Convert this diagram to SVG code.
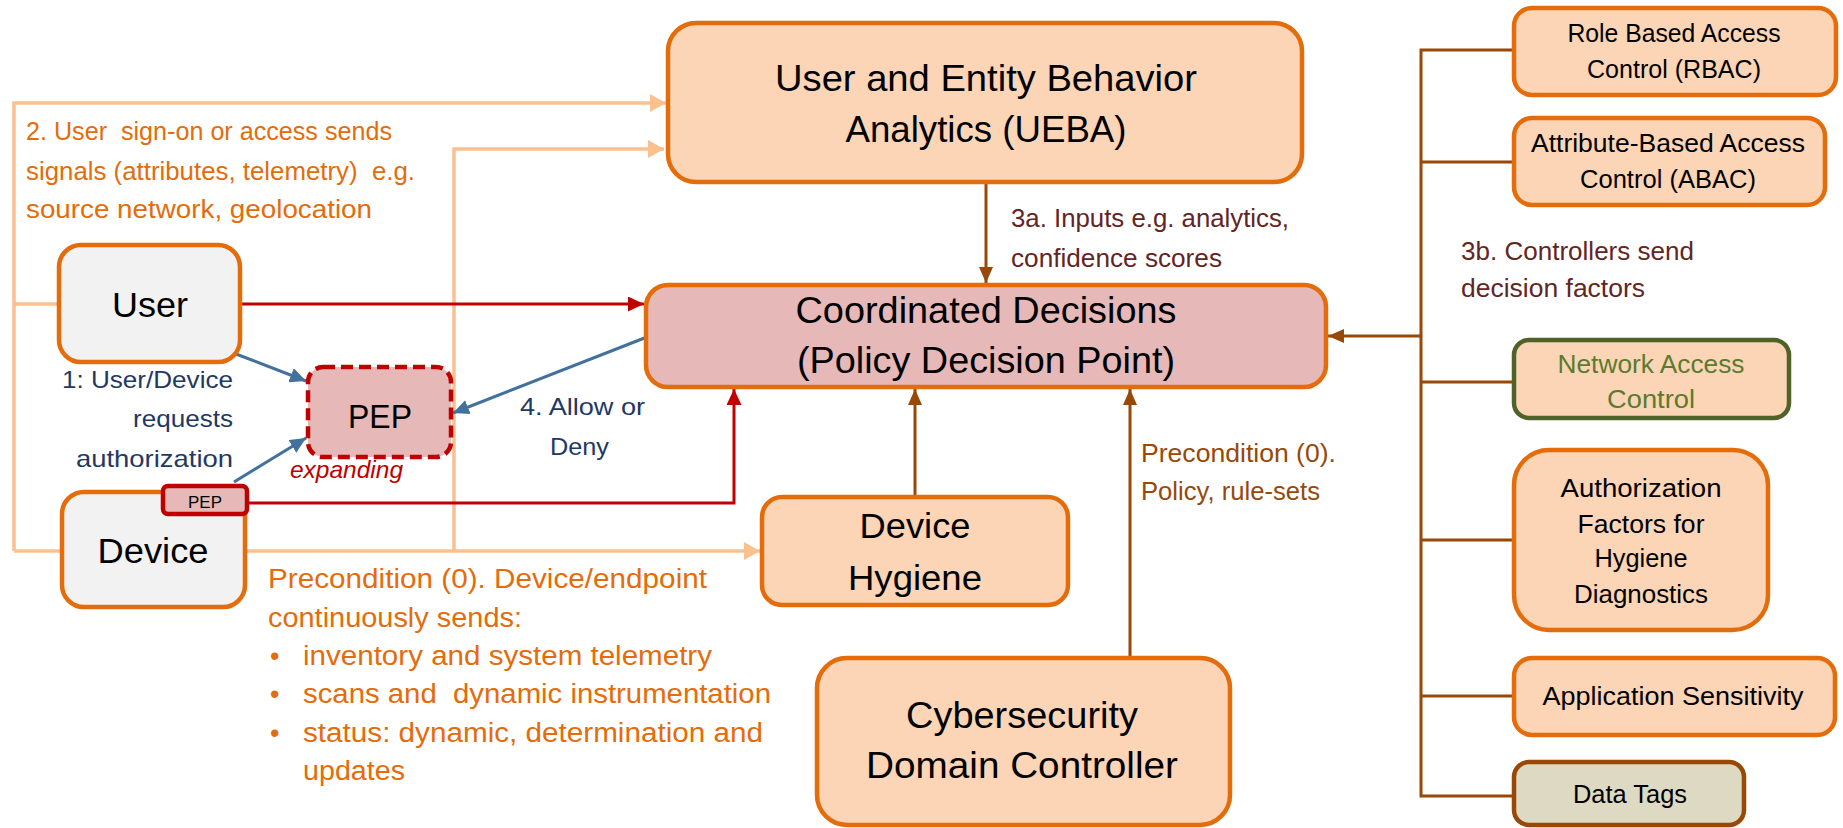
<svg xmlns="http://www.w3.org/2000/svg" width="1843" height="828" viewBox="0 0 1843 828">
<style>
text { font-family: "Liberation Sans", Arial, sans-serif; white-space: pre; }
.box { fill:#FBD5B5; stroke:#E46C0A; stroke-width:4.5; }
.pdp { fill:#E6B9B8; stroke:#E46C0A; stroke-width:4.5; }
.grey { fill:#F2F2F2; stroke:#E46C0A; stroke-width:4.5; }
.pep { fill:#E6B9B8; stroke:#C00000; stroke-width:4.5; }
.t { fill:#000; text-anchor:middle; }
.lo { stroke:#FAC090; stroke-width:3.5; fill:none; }
.red { stroke:#C00000; stroke-width:3; fill:none; }
.blue { stroke:#41719C; stroke-width:3; fill:none; }
.brown { stroke:#984807; stroke-width:3; fill:none; }
.or { fill:#E46C0A; }
.dr { fill:#632523; }
.nv { fill:#1F3864; }
.br { fill:#984807; }
</style>
<defs>
<marker id="aLO" markerUnits="userSpaceOnUse" markerWidth="16" markerHeight="18" refX="16" refY="9" orient="auto"><path d="M0,0 L16,9 L0,18 z" fill="#FAC090"/></marker>
<marker id="aR" markerUnits="userSpaceOnUse" markerWidth="16" markerHeight="15" refX="16" refY="7.5" orient="auto"><path d="M0,0 L16,7.5 L0,15 z" fill="#C00000"/></marker>
<marker id="aB" markerUnits="userSpaceOnUse" markerWidth="16" markerHeight="15" refX="16" refY="7.5" orient="auto"><path d="M0,0 L16,7.5 L0,15 z" fill="#41719C"/></marker>
<marker id="aBr" markerUnits="userSpaceOnUse" markerWidth="16" markerHeight="14" refX="16" refY="7" orient="auto"><path d="M0,0 L16,7 L0,14 z" fill="#984807"/></marker>
</defs>

<g id="connectors">
  <path class="lo" d="M14,551 L14,103 L666,103" marker-end="url(#aLO)"/>
  <path class="lo" d="M14,304 L59,304"/>
  <path class="lo" d="M14,551 L62,551"/>
  <path class="lo" d="M245,551 L760,551" marker-end="url(#aLO)"/>
  <path class="lo" d="M454,551 L454,149 L664,149" marker-end="url(#aLO)"/>
  <path class="red" d="M240,304 L644,304" marker-end="url(#aR)"/>
  <path class="red" d="M247,503 L734,503 L734,389" marker-end="url(#aR)"/>
  <path class="blue" d="M236,354 L306,381" marker-end="url(#aB)"/>
  <path class="blue" d="M234,482 L306,438" marker-end="url(#aB)"/>
  <path class="blue" d="M647,337 L453,413" marker-end="url(#aB)"/>
  <path class="brown" d="M986,184 L986,283" marker-end="url(#aBr)"/>
  <path class="brown" d="M915,497 L915,389" marker-end="url(#aBr)"/>
  <path class="brown" d="M1130,658 L1130,389" marker-end="url(#aBr)"/>
  <path class="brown" d="M1514,50 L1421,50 L1421,796 L1514,796 M1421,162 L1514,162 M1421,382 L1514,382 M1421,540 L1514,540 M1421,696 L1514,696"/>
  <path class="brown" d="M1421,336 L1328,336" marker-end="url(#aBr)"/>
</g>

<g id="ueba">
  <rect class="box" x="668" y="23" width="634" height="159" rx="28"/>
  <text class="t" x="986" y="91" font-size="37" textLength="422" lengthAdjust="spacingAndGlyphs">User and Entity Behavior</text>
  <text class="t" x="986" y="142" font-size="37" textLength="281" lengthAdjust="spacingAndGlyphs">Analytics (UEBA)</text>
</g>
<g id="pdp">
  <rect class="pdp" x="646" y="285" width="680" height="102" rx="22"/>
  <text class="t" x="986" y="323" font-size="37" textLength="381" lengthAdjust="spacingAndGlyphs">Coordinated Decisions</text>
  <text class="t" x="986" y="373" font-size="37" textLength="378" lengthAdjust="spacingAndGlyphs">(Policy Decision Point)</text>
</g>
<g id="user">
  <rect class="grey" x="59" y="245" width="181" height="117" rx="22"/>
  <text class="t" x="150" y="317" font-size="35" textLength="76" lengthAdjust="spacingAndGlyphs">User</text>
</g>
<g id="device">
  <rect class="grey" x="62" y="492" width="183" height="115" rx="22"/>
  <text class="t" x="153" y="563" font-size="35" textLength="111" lengthAdjust="spacingAndGlyphs">Device</text>
</g>
<g id="device-pep">
  <rect class="pep" x="163" y="486" width="84" height="28" rx="5"/>
  <text class="t" x="205" y="508" font-size="17" textLength="34" lengthAdjust="spacingAndGlyphs">PEP</text>
</g>
<g id="pep">
  <rect class="pep" x="308" y="367" width="143" height="90" rx="15" stroke-dasharray="12 6"/>
  <text class="t" x="380" y="428" font-size="33" textLength="64" lengthAdjust="spacingAndGlyphs">PEP</text>
  <text x="290" y="478" font-size="24" font-style="italic" fill="#C00000" textLength="113" lengthAdjust="spacingAndGlyphs">expanding</text>
</g>
<g id="device-hygiene">
  <rect class="box" x="762" y="497" width="306" height="108" rx="20"/>
  <text class="t" x="915" y="538" font-size="35" textLength="111" lengthAdjust="spacingAndGlyphs">Device</text>
  <text class="t" x="915" y="590" font-size="35" textLength="134" lengthAdjust="spacingAndGlyphs">Hygiene</text>
</g>
<g id="cyber">
  <rect class="box" x="817" y="658" width="413" height="167" rx="30"/>
  <text class="t" x="1022" y="728" font-size="37" textLength="232" lengthAdjust="spacingAndGlyphs">Cybersecurity</text>
  <text class="t" x="1022" y="778" font-size="37" textLength="312" lengthAdjust="spacingAndGlyphs">Domain Controller</text>
</g>
<g id="rbac">
  <rect class="box" x="1514" y="8" width="322" height="87" rx="18"/>
  <text class="t" x="1674" y="42" font-size="25" textLength="213" lengthAdjust="spacingAndGlyphs">Role Based Access</text>
  <text class="t" x="1674" y="78" font-size="25" textLength="174" lengthAdjust="spacingAndGlyphs">Control (RBAC)</text>
</g>
<g id="abac">
  <rect class="box" x="1514" y="118" width="311" height="87" rx="18"/>
  <text class="t" x="1668" y="152" font-size="25" textLength="274" lengthAdjust="spacingAndGlyphs">Attribute-Based Access</text>
  <text class="t" x="1668" y="188" font-size="25" textLength="176" lengthAdjust="spacingAndGlyphs">Control (ABAC)</text>
</g>
<g id="nac">
  <rect x="1514" y="340" width="275" height="78" rx="15" fill="#FBD5B5" stroke="#4F6228" stroke-width="4.5"/>
  <text x="1651" y="373" font-size="25" text-anchor="middle" fill="#5C7A30" textLength="187" lengthAdjust="spacingAndGlyphs">Network Access</text>
  <text x="1651" y="408" font-size="25" text-anchor="middle" fill="#5C7A30" textLength="88" lengthAdjust="spacingAndGlyphs">Control</text>
</g>
<g id="auth-factors">
  <rect class="box" x="1514" y="450" width="254" height="180" rx="35"/>
  <text class="t" x="1641" y="497" font-size="25" textLength="161" lengthAdjust="spacingAndGlyphs">Authorization</text>
  <text class="t" x="1641" y="533" font-size="25" textLength="127" lengthAdjust="spacingAndGlyphs">Factors for</text>
  <text class="t" x="1641" y="567" font-size="25" textLength="93" lengthAdjust="spacingAndGlyphs">Hygiene</text>
  <text class="t" x="1641" y="603" font-size="25" textLength="134" lengthAdjust="spacingAndGlyphs">Diagnostics</text>
</g>
<g id="app-sensitivity">
  <rect class="box" x="1514" y="658" width="321" height="77" rx="18"/>
  <text class="t" x="1673" y="705" font-size="25" textLength="261" lengthAdjust="spacingAndGlyphs">Application Sensitivity</text>
</g>
<g id="data-tags">
  <rect x="1514" y="762" width="230" height="63" rx="15" fill="#DDD9C3" stroke="#984807" stroke-width="4.5"/>
  <text class="t" x="1630" y="803" font-size="25" textLength="114" lengthAdjust="spacingAndGlyphs">Data Tags</text>
</g>

<g id="labels">
  <text class="or" x="26" y="140" font-size="26" textLength="366" lengthAdjust="spacingAndGlyphs" xml:space="preserve">2. User  sign-on or access sends</text>
  <text class="or" x="26" y="180" font-size="26" textLength="389" lengthAdjust="spacingAndGlyphs" xml:space="preserve">signals (attributes, telemetry)  e.g.</text>
  <text class="or" x="26" y="218" font-size="26" textLength="346" lengthAdjust="spacingAndGlyphs">source network, geolocation</text>

  <text class="dr" x="1011" y="227" font-size="25" textLength="278" lengthAdjust="spacingAndGlyphs">3a. Inputs e.g. analytics,</text>
  <text class="dr" x="1011" y="267" font-size="25" textLength="211" lengthAdjust="spacingAndGlyphs">confidence scores</text>

  <text class="dr" x="1461" y="260" font-size="25" textLength="233" lengthAdjust="spacingAndGlyphs">3b. Controllers send</text>
  <text class="dr" x="1461" y="297" font-size="25" textLength="184" lengthAdjust="spacingAndGlyphs">decision factors</text>

  <text class="br" x="1141" y="462" font-size="25" textLength="195" lengthAdjust="spacingAndGlyphs">Precondition (0).</text>
  <text class="br" x="1141" y="500" font-size="25" textLength="179" lengthAdjust="spacingAndGlyphs">Policy, rule-sets</text>

  <text class="nv" x="233" y="388" font-size="24" text-anchor="end" textLength="171" lengthAdjust="spacingAndGlyphs">1: User/Device</text>
  <text class="nv" x="233" y="427" font-size="24" text-anchor="end" textLength="100" lengthAdjust="spacingAndGlyphs">requests</text>
  <text class="nv" x="233" y="467" font-size="24" text-anchor="end" textLength="157" lengthAdjust="spacingAndGlyphs">authorization</text>

  <text class="nv" x="520" y="415" font-size="24" textLength="125" lengthAdjust="spacingAndGlyphs">4. Allow or</text>
  <text class="nv" x="550" y="455" font-size="24" textLength="59" lengthAdjust="spacingAndGlyphs">Deny</text>

  <text class="or" x="268" y="588" font-size="27" textLength="439" lengthAdjust="spacingAndGlyphs">Precondition (0). Device/endpoint</text>
  <text class="or" x="268" y="627" font-size="27" textLength="254" lengthAdjust="spacingAndGlyphs">continuously sends:</text>
  <text class="or" x="270" y="665" font-size="27">•</text>
  <text class="or" x="270" y="703" font-size="27">•</text>
  <text class="or" x="270" y="742" font-size="27">•</text>
  <text class="or" x="303" y="665" font-size="27" textLength="409" lengthAdjust="spacingAndGlyphs">inventory and system telemetry</text>
  <text class="or" x="303" y="703" font-size="27" textLength="468" lengthAdjust="spacingAndGlyphs" xml:space="preserve">scans and  dynamic instrumentation</text>
  <text class="or" x="303" y="742" font-size="27" textLength="460" lengthAdjust="spacingAndGlyphs">status: dynamic, determination and</text>
  <text class="or" x="303" y="780" font-size="27" textLength="102" lengthAdjust="spacingAndGlyphs">updates</text>
</g>
</svg>
